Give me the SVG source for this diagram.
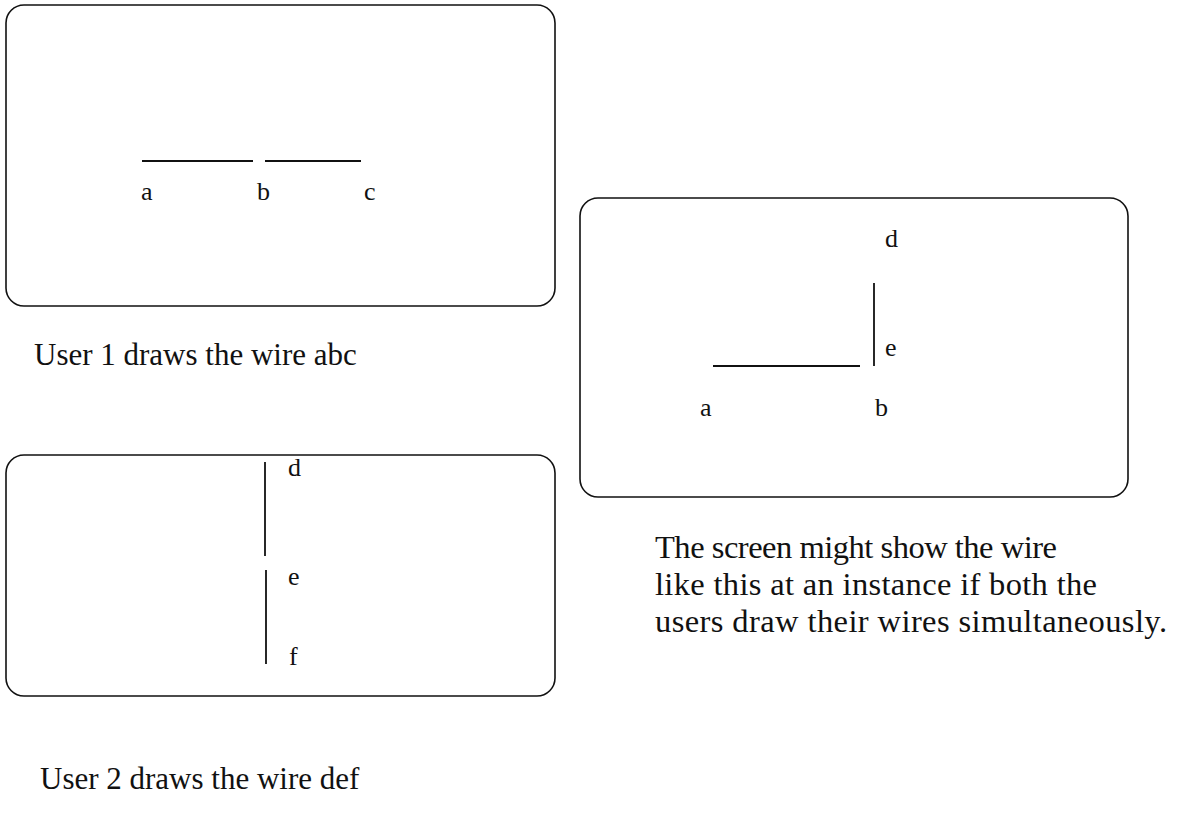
<svg xmlns="http://www.w3.org/2000/svg" width="1182" height="813" viewBox="0 0 1182 813">
  <style>
    .panel { fill: #fff; stroke: #111; stroke-width: 1.6; }
    .wire { stroke: #111; stroke-width: 1.8; fill: none; }
    .lbl { font-family: "Liberation Serif", "Times New Roman", serif; font-size: 26px; fill: #111; }
    .cap { font-family: "Liberation Serif", "Times New Roman", serif; font-size: 31px; fill: #111; }
    .note { font-family: "Liberation Serif", "Times New Roman", serif; font-size: 32.5px; fill: #111; }
  </style>
  <rect width="1182" height="813" fill="#fff"/>

  <!-- Panel 1: user 1 draws wire abc -->
  <g id="panel-user1">
    <rect class="panel" x="6" y="5" width="549" height="301" rx="18" ry="18"/>
    <g id="wire-abc">
      <line class="wire" x1="142" y1="161" x2="253" y2="161"/>
      <line class="wire" x1="265" y1="161" x2="361" y2="161"/>
    </g>
    <text class="lbl" x="141" y="200">a</text>
    <text class="lbl" x="257" y="200">b</text>
    <text class="lbl" x="364" y="200">c</text>
  </g>
  <text id="caption-user1" class="cap" x="34" y="365">User 1 draws the wire abc</text>

  <!-- Panel 2: user 2 draws wire def -->
  <g id="panel-user2">
    <rect class="panel" x="6" y="455" width="549" height="241" rx="18" ry="18"/>
    <g id="wire-def">
      <line class="wire" x1="265" y1="462" x2="265" y2="556"/>
      <line class="wire" x1="266" y1="570" x2="266" y2="664"/>
    </g>
    <text class="lbl" x="288" y="476">d</text>
    <text class="lbl" x="288" y="585">e</text>
    <text class="lbl" x="289" y="665">f</text>
  </g>
  <text id="caption-user2" class="cap" x="40" y="789">User 2 draws the wire def</text>

  <!-- Panel 3: combined screen state -->
  <g id="panel-screen">
    <rect class="panel" x="580" y="198" width="548" height="299" rx="18" ry="18"/>
    <g id="wire-combined">
      <line class="wire" x1="713" y1="366" x2="860" y2="366"/>
      <line class="wire" x1="874" y1="283" x2="874" y2="366"/>
    </g>
    <text class="lbl" x="885" y="247">d</text>
    <text class="lbl" x="885" y="356">e</text>
    <text class="lbl" x="700" y="416">a</text>
    <text class="lbl" x="875" y="416">b</text>
  </g>
  <g id="caption-screen">
    <text class="note" x="655" y="558" textLength="402" lengthAdjust="spacing">The screen might show the wire</text>
    <text class="note" x="655" y="595" textLength="442" lengthAdjust="spacing">like this at an instance if both the</text>
    <text class="note" x="655" y="632" textLength="512" lengthAdjust="spacing">users draw their wires simultaneously.</text>
  </g>
</svg>
